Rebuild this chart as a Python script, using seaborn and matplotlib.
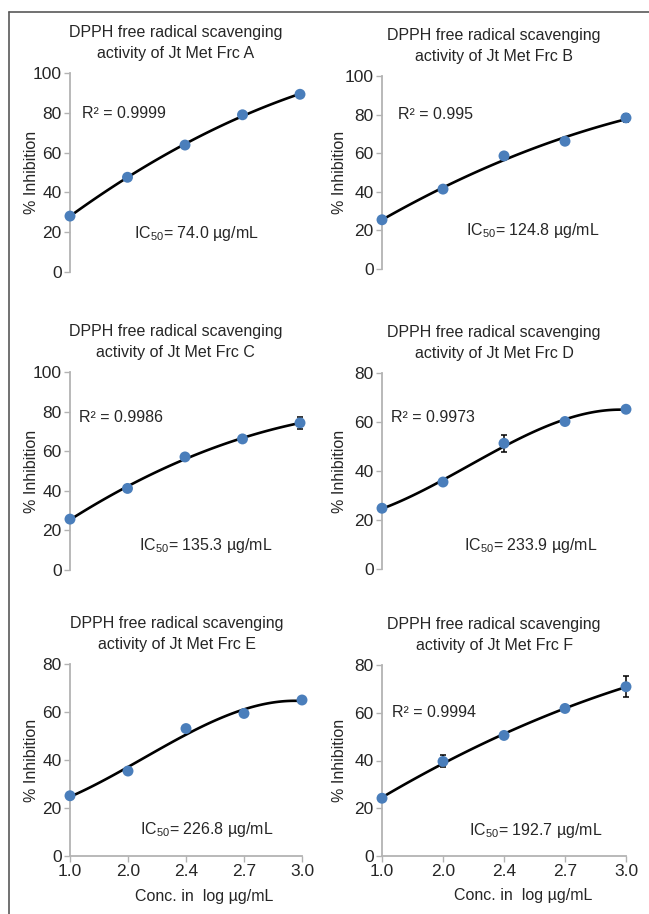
import numpy as np
import matplotlib
matplotlib.use("Agg")
import matplotlib.pyplot as plt
from matplotlib.lines import Line2D
import seaborn as sns

# data
conc_labels = ["1.0", "2.0", "2.4", "2.7", "3.0"]
fractions = ["A", "B", "C", "D", "E", "F"]

inhib_a = [28.1, 47.6, 63.8, 79.0, 89.3]
inhib_b = [25.5, 41.4, 58.6, 66.2, 78.3]
inhib_c = [25.7, 41.2, 57.1, 66.2, 74.3]
inhib_d = [24.8, 35.5, 51.3, 60.2, 65.2]
inhib_e = [25.1, 35.4, 53.1, 59.4, 65.0]
inhib_f = [24.2, 39.6, 50.5, 61.8, 70.9]

err_a = [0.8, 0.6, 0.7, 0.6, 0.8]
err_b = [0.7, 0.6, 0.8, 0.7, 2.0]
err_c = [0.7, 0.8, 0.6, 0.7, 3.2]
err_d = [0.6, 0.7, 3.5, 0.6, 0.7]
err_e = [0.6, 0.7, 0.8, 0.7, 0.6]
err_f = [0.6, 2.5, 0.7, 0.6, 4.5]

r2_values = ["0.9999", "0.995", "0.9986", "0.9973", "0.9896", "0.9994"]
ic50_values = ["74.0", "124.8", "135.3", "233.9", "226.8", "192.7"]
fit_order = [2, 2, 2, 3, 3, 2]
y_max = [100, 100, 100, 80, 80, 80]

inhib = [inhib_a, inhib_b, inhib_c, inhib_d, inhib_e, inhib_f]
errs = [err_a, err_b, err_c, err_d, err_e, err_f]

# layout (pixel boxes) and annotation spots (x index, y value)
W, H = 649, 914
rects = [(70, 73, 300, 272), (382, 76, 626, 269),
         (70, 372, 300, 570), (382, 373, 626, 569),
         (70, 664, 302, 856), (382, 665, 626, 856)]
r2_pos = [(0.2, 79.5), (0.26, 80), (0.16, 77), (0.15, 62), (-0.02, 60), (0.16, 60)]
ic_pos = [(1.12, 19.5), (1.38, 20), (1.2, 12.6), (1.34, 9.4), (1.21, 11), (1.43, 10.5)]

sns.set_style("ticks")
plt.rcParams['font.family'] = ['Liberation Sans', 'DejaVu Sans']
plt.rcParams['mathtext.fontset'] = 'custom'
plt.rcParams['mathtext.rm'] = 'Liberation Sans'
plt.rcParams['mathtext.it'] = 'Liberation Sans'

axis_gray = "#b3b3b3"
text_col = "#262626"
dot_blue = "#4a7ebb"

fig = plt.figure(figsize=(W / 100, H / 100), dpi=100)
idx = np.arange(len(conc_labels))

for i, frc in enumerate(fractions):
    x0, y0, x1, y1 = rects[i]
    ax = fig.add_axes([x0 / W, 1 - y1 / H, (x1 - x0) / W, (y1 - y0) / H])
    vals = np.array(inhib[i])

    sns.regplot(x=idx, y=vals, order=fit_order[i], ci=None, scatter=False,
                color="black", line_kws={"lw": 1.9, "solid_capstyle": "round"},
                ax=ax, truncate=True)
    ax.errorbar(idx, vals, yerr=errs[i], fmt="none", ecolor="black",
                elinewidth=1.1, capsize=2.5, capthick=1.1, zorder=2.5, clip_on=False)
    sns.scatterplot(x=idx, y=vals, color=dot_blue, s=62, edgecolor="none",
                    ax=ax, zorder=3, clip_on=False)

    ax.set_xlim(0, 4)
    ax.set_ylim(0, y_max[i])
    ax.set_yticks(np.arange(0, y_max[i] + 1, 20))
    ax.tick_params(axis="y", length=4, width=1, color=axis_gray, labelsize=12.5,
                   labelcolor=text_col, pad=2)
    for s in ["top", "right"]:
        ax.spines[s].set_visible(False)
    ax.spines["left"].set_color(axis_gray)
    ax.spines["left"].set_linewidth(1.3)

    if i >= 4:
        ax.set_xticks(idx)
        ax.set_xticklabels(conc_labels)
        ax.tick_params(axis="x", length=4, width=1, color=axis_gray, labelsize=12.5,
                       labelcolor=text_col, pad=2)
        ax.spines["bottom"].set_color(axis_gray)
        ax.spines["bottom"].set_linewidth(1.3)
        ax.set_xlabel("Conc. in  log µg/mL", fontsize=11.5, color=text_col)
        ax.xaxis.set_label_coords(0.58, -0.17)
    else:
        ax.spines["bottom"].set_visible(False)
        ax.set_xticks([])
        ax.set_xlabel("")

    ax.set_ylabel("% Inhibition", fontsize=11.5, color=text_col)
    ax.yaxis.set_label_coords(-0.135 if i % 2 == 0 else -0.143, 0.5)
    ax.set_title("DPPH free radical scavenging\nactivity of Jt Met Frc " + frc,
                 fontsize=11.5, color=text_col, x=0.46, pad=11, linespacing=1.45)

    ax.annotate("R² = " + r2_values[i], xy=r2_pos[i], xycoords="data",
                ha="left", va="center", fontsize=11.5, color=text_col)
    ax.annotate(r"IC$_{50}$= " + ic50_values[i] + " µg/mL", xy=ic_pos[i],
                xycoords="data", ha="left", va="center", fontsize=11.5, color=text_col)

# outer frame: left and top edges only
fig.add_artist(Line2D([9 / W, 9 / W], [0, 1 - 12 / H], transform=fig.transFigure,
                      color="#595959", lw=1.2))
fig.add_artist(Line2D([9 / W, 1], [1 - 12 / H, 1 - 12 / H], transform=fig.transFigure,
                      color="#595959", lw=1.2))

fig.savefig("out.png", dpi=100)
